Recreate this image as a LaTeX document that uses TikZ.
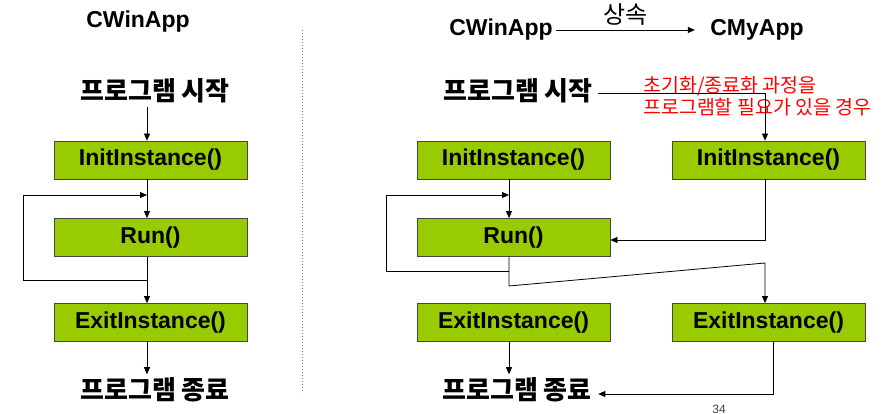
\documentclass[tikz,border=0pt]{standalone}
\usepackage{fontspec}
\setmainfont{Liberation Sans}
\newfontfamily\krfont{Noto Sans CJK KR}
\usetikzlibrary{arrows.meta,calc,positioning}
\definecolor{boxgreen}{RGB}{153,204,0}
\definecolor{boxedge}{RGB}{70,70,70}
\tikzset{
funcbox/.style={
  rectangle,
  line width=0.8pt,
  draw=boxedge,
  fill=boxgreen,
  minimum width=193pt,
  minimum height=38pt,
  inner sep=0pt,
  font=\fontsize{23}{27}\selectfont\bfseries,
  }
}
\tikzset{
flowline/.style={
  line width=0.8pt,
  -{Triangle[length=7pt,width=6pt]}
  }
}
\tikzset{
classname/.style={font=\fontsize{23}{27}\selectfont\bfseries},
kortext/.style={font=\fontsize{26}{30}\selectfont\krfont\bfseries},
note/.style={text=red, align=left, inner sep=0pt, font=\fontsize{19.5}{22}\selectfont\krfont},
}

\begin{document}
\begin{tikzpicture}[x=1pt,y=-1pt]
    \useasboundingbox (0,0) rectangle (888,414);

    % base class part
    \node[classname] (base1) at (138,22) {CWinApp};
    \node[kortext] (start1) at (155,91) {프로그램 시작};
    \node[funcbox] (init1) at (150.5,160) {InitInstance()};
    \node[funcbox] (run1) at (150.5,237.5) {Run()};
    \node[funcbox] (exit1) at (150.5,322.5) {ExitInstance()};
    \node[kortext] (end1) at (155,390) {프로그램 종료};
    \coordinate (loop1a) at (147,280);
    \coordinate (loop1b) at (23,280);
    \coordinate (loop1c) at (23,195);
    \coordinate (loop1d) at (147,195);

    % divider
    \coordinate (divtop) at (302,30);
    \coordinate (divbot) at (302,393);
    \draw[gray, dotted, line width=1pt] (divtop) -- (divbot);

    % derived class part
    \node[classname] (base2) at (501,30) {CWinApp};
    \node[classname] (derived) at (757,30) {CMyApp};
    \node[kortext] (start2) at (518,91) {프로그램 시작};
    \node[note, anchor=west] (cond) at (643,96) {초기화/종료화 과정을\\프로그램할 필요가 있을 경우};
    \node[funcbox] (init2) at (513.5,160) {InitInstance()};
    \node[funcbox] (myinit) at (768.5,160) {InitInstance()};
    \node[funcbox] (run2) at (513.5,237.5) {Run()};
    \node[funcbox] (exit2) at (513.5,322.5) {ExitInstance()};
    \node[funcbox] (myexit) at (768.5,322.5) {ExitInstance()};
    \node[kortext] (end2) at (517,390) {프로그램 종료};
    \node[font=\fontsize{12}{14}\selectfont, text=darkgray] (page) at (719,409) {34};
    \coordinate (loop2a) at (509,271);
    \coordinate (loop2b) at (386,271);
    \coordinate (loop2c) at (386,195);
    \coordinate (loop2d) at (509,195);
    \coordinate (slant1) at (509,286);
    \coordinate (slant2) at (765,263);

    % base class edges
    \draw[flowline] ([xshift=-8pt]start1.south) -- ([xshift=-3.5pt]init1.north);
    \draw[flowline] ([xshift=-3.5pt]init1.south) -- ([xshift=-3.5pt]run1.north);
    \draw[flowline] (loop1a) -- (loop1b) -- (loop1c) -- (loop1d);
    \draw[flowline] ([xshift=-3.5pt]run1.south) -- ([xshift=-3.5pt]exit1.north);
    \draw[flowline] ([xshift=-3.5pt]exit1.south) -- ([xshift=-8pt]end1.north);

    % inheritance edge
    \draw[flowline] (base2.east) -- ([xshift=-12pt]derived.west)
        node[midway, above=1pt, font=\fontsize{24}{28}\selectfont\krfont] (inherit) {상속};

    % derived class edges
    \draw[flowline] ([xshift=2pt,yshift=-2pt]start2.east) -| ([xshift=-3.5pt]myinit.north);
    \draw[flowline] ([xshift=-4.5pt]init2.south) -- ([xshift=-4.5pt]run2.north);
    \draw[flowline] ([xshift=-3.5pt]myinit.south) |- ([yshift=-2.5pt]run2.east);
    \draw[flowline] (loop2a) -- (loop2b) -- (loop2c) -- (loop2d);
    \draw[flowline] ([xshift=-4.5pt]run2.south) -- (slant1) -- (slant2) -- ([xshift=-3.5pt]myexit.north);
    \draw[flowline] ([xshift=-4.5pt]exit2.south) -- ([xshift=-8pt]end2.north);
    \draw[flowline] ([xshift=4.5pt]myexit.south) |- ([xshift=3pt,yshift=-4pt]end2.east);
\end{tikzpicture}
\end{document}
